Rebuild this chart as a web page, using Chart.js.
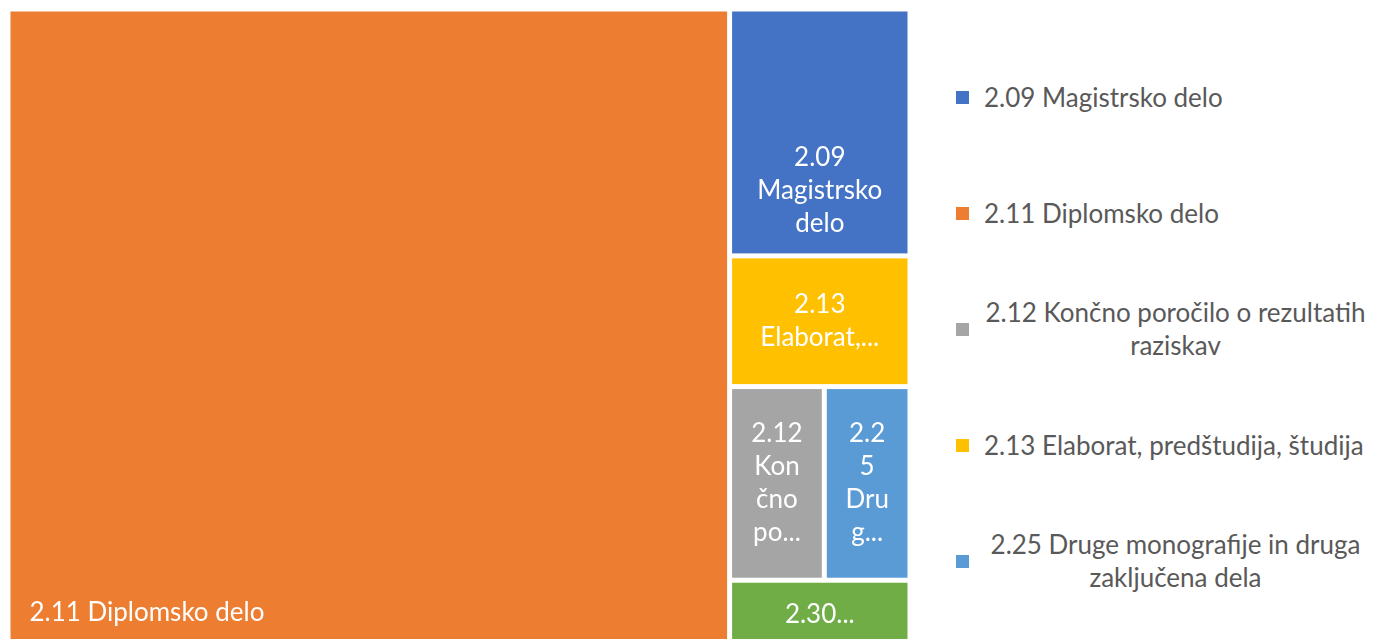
<!DOCTYPE html>
<html>
<head>
<meta charset="utf-8">
<script src="https://cdn.jsdelivr.net/npm/chart.js@4"></script>
<style>
  html, body { margin: 0; padding: 0; background: #fff; overflow: hidden; }
  #wrap { position: absolute; left: 0; top: 0; width: 920px; height: 650px; }
  #legend { position: absolute; left: 948px; top: 39px; width: 428px; font-family: Lato, "Open Sans", sans-serif; }
  .item { height: 116px; display: flex; align-items: center; }
  .box { width: 13px; height: 13px; margin-left: 8px; flex: none; }
  .txt { margin-left: 15px; max-width: 383px; text-align: center; font-size: 26px; line-height: 33px; color: #595959; }
</style>
</head>
<body>
<div id="wrap"><canvas id="chart"></canvas></div>
<div id="legend"></div>
<script>
'use strict';

// categories (legend order) and counts
const codes = ['2.09', '2.11', '2.12', '2.13', '2.25', '2.30'];
const names = [
    'Magistrsko delo',
    'Diplomsko delo',
    'Končno poročilo o rezultatih raziskav',
    'Elaborat, predštudija, študija',
    'Druge monografije in druga zaključena dela',
    'Zbornik strokovnih ali nerecenziranih znanstvenih prispevkov na konferenci',
];
const counts = [51, 528, 21, 27, 19, 14];
const colors = ['#4472C4', '#ED7D31', '#A5A5A5', '#FFC000', '#5B9BD5', '#70AD47'];

// tiles per band, biggest first: first band is a full height column,
// the other bands are stacked in the column that is left over
const bandSizes = [1, 1, 1, 2, 1];

const FONT = '26px Lato, "Open Sans", sans-serif';
const LINE_H = 33;
const PAD_X = 18.1;

function layout_tiles(){
    var order = counts.map((v, i) => i).sort((a, b) => counts[b] - counts[a]);
    var total = counts.reduce((s, v) => s + v, 0);
    var tiles = [];
    var k = 0;
    var first = order.slice(0, bandSizes[0]);
    k = bandSizes[0];
    var firstSum = first.reduce((s, i) => s + counts[i], 0);
    var colW = firstSum / total;
    var y = 0;
    for( let i of first ){
        var h = counts[i] / firstSum;
        tiles.push({ i: i, x0: 0, x1: colW, y0: y, y1: y + h });
        y += h;
    }
    var rest = total - firstSum;
    y = 0;
    for( var b = 1 ; b < bandSizes.length ; b++ ){
        var band = order.slice(k, k + bandSizes[b]);
        k += bandSizes[b];
        var bandSum = band.reduce((s, i) => s + counts[i], 0);
        var bh = bandSum / rest;
        var x = colW;
        for( let i of band ){
            var w = (1 - colW) * counts[i] / bandSum;
            tiles.push({ i: i, x0: x, x1: x + w, y0: y, y1: y + bh });
            x += w;
        }
        y += bh;
    }
    return tiles;
}

function wrap_label(ctx, text, maxW, maxLines){
    var lines = [];
    var cur = '';
    for( let word of text.split(' ') ){
        var test = cur ? cur + ' ' + word : word;
        if( ctx.measureText(test).width <= maxW ){
            cur = test;
            continue;
        }
        if( cur ) lines.push(cur);
        cur = '';
        // break long words by characters
        for( let ch of word ){
            if( cur && ctx.measureText(cur + ch).width > maxW ){
                lines.push(cur);
                cur = '';
            }
            cur += ch;
        }
    }
    if( cur ) lines.push(cur);
    if( lines.length > maxLines ){
        lines = lines.slice(0, maxLines);
        var last = lines[maxLines - 1];
        while( last.length > 1 && ctx.measureText(last + '...').width > maxW )
            last = last.slice(0, -1);
        lines[maxLines - 1] = last + '...';
    }
    return lines;
}

const treemapPlugin = {
    id: 'treemapTiles',
    beforeDatasetsDraw: function(chart){
        var ctx = chart.ctx;
        var xs = chart.scales.x, ys = chart.scales.y;
        var gap = 2.5;
        ctx.save();
        for( let t of layout_tiles() ){
            var l = xs.getPixelForValue(t.x0) + gap;
            var r = xs.getPixelForValue(t.x1) - gap;
            var top = ys.getPixelForValue(t.y0) + gap;
            var bot = ys.getPixelForValue(t.y1) - gap;
            ctx.fillStyle = colors[t.i];
            ctx.fillRect(l, top, r - l, bot - top);

            var label = codes[t.i] + ' ' + names[t.i];
            ctx.font = FONT;
            ctx.fillStyle = '#ffffff';
            ctx.textBaseline = 'middle';
            if( t.i == 1 ){
                // the big tile keeps its label at the bottom left
                ctx.textAlign = 'left';
                ctx.fillText(label, l + 19, bot - 33);
                continue;
            }
            var maxLines = Math.max(1, Math.floor((bot - top - 50) / LINE_H));
            var lines = wrap_label(ctx, label, r - l - 2 * PAD_X, maxLines);
            var cy = (top + bot) / 2;
            if( t.i == 0 ) cy = top + (bot - top) * 0.74;
            var y0 = cy - (lines.length - 1) * LINE_H / 2;
            ctx.textAlign = 'center';
            for( var j = 0 ; j < lines.length ; j++ ){
                ctx.fillText(lines[j], (l + r) / 2, y0 + j * LINE_H);
            }
        }
        ctx.restore();
    }
};

new Chart(document.getElementById('chart'), {
    type: 'scatter',
    data: { datasets: [{ data: [] }] },
    options: {
        responsive: true,
        maintainAspectRatio: false,
        animation: false,
        layout: { padding: { left: 8, right: 10, top: 9, bottom: 2 } },
        scales: {
            x: { type: 'linear', min: 0, max: 1, display: false },
            y: { type: 'linear', min: 0, max: 1, reverse: true, display: false },
        },
        plugins: { legend: { display: false }, tooltip: { enabled: false } },
    },
    plugins: [treemapPlugin],
});

// legend on the right; entries that do not fit in the view are dropped
var legend = document.getElementById('legend');
for( var i = 0 ; i < codes.length ; i++ ){
    var item = document.createElement('div');
    item.className = 'item';
    var box = document.createElement('div');
    box.className = 'box';
    box.style.background = colors[i];
    var txt = document.createElement('div');
    txt.className = 'txt';
    txt.textContent = codes[i] + ' ' + names[i];
    item.appendChild(box);
    item.appendChild(txt);
    legend.appendChild(item);
    if( txt.getBoundingClientRect().bottom > 639 ){
        legend.removeChild(item);
        break;
    }
}
</script>
</body>
</html>
